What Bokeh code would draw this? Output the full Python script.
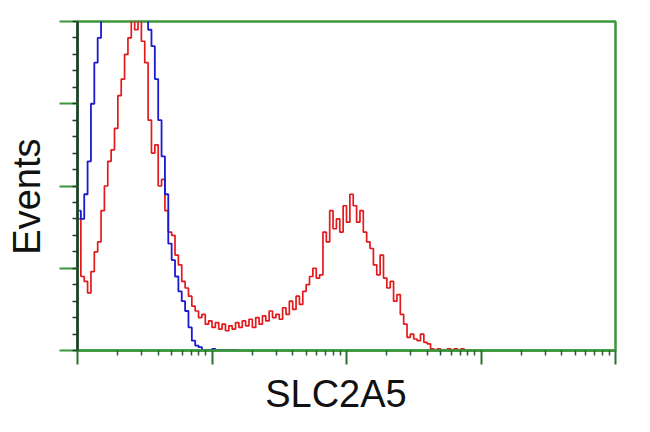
from bokeh.plotting import figure
from bokeh.models import Range1d, FixedTicker, ColumnDataSource
from bokeh.embed import file_html
from bokeh.resources import INLINE

# Channels: 40 channels per decade, log scale from 1 to 10^4
CH_PER_DECADE = 40

blue_counts = [85, 80, 95, 115, 150, 175, 190, 210, 225, 240, 255, 265, 275, 280,
               285, 280, 270, 260, 245, 230, 215, 195, 185, 165, 140, 118, 95, 65,
               55, 45, 36, 30, 24, 14, 6, 3, 2, 0, 0, 0, 1, 0, 0, 0, 0, 0, 0, 0]

red_counts = [80, 45, 42, 35, 48, 60, 66, 85, 100, 115, 122, 135, 155, 165, 180, 190,
              205, 195, 205, 188, 175, 140, 120, 125, 100, 104, 85, 72, 70, 58, 52, 42,
              38, 33, 27, 24, 20, 22, 16, 18, 14, 17, 13, 16, 12, 15, 13, 17, 14, 18,
              15, 19, 14, 20, 16, 21, 18, 24, 20, 22, 19, 26, 22, 30, 25, 33, 28, 36,
              40, 45, 50, 44, 46, 72, 66, 85, 74, 80, 72, 88, 78, 95, 88, 78, 85, 72,
              66, 62, 52, 46, 58, 44, 38, 42, 30, 34, 22, 16, 8, 10, 7, 6, 10, 5, 4, 1,
              0, 1, 0, 0, 1, 0, 1, 0, 1, 0, 0, 0]

x_major = [1, 10, 100, 1000, 10000]
y_major = [0, 50, 100, 150, 200]

GREEN = "#38983a"
DARK = "#203a2c"

def centers(n):
    return [10 ** ((i + 0.5) / CH_PER_DECADE) for i in range(n)]

blue_src = ColumnDataSource(dict(x=centers(len(blue_counts)), y=blue_counts))
red_src = ColumnDataSource(dict(x=centers(len(red_counts)), y=red_counts))

p = figure(width=642, height=424, x_axis_type="log",
           x_range=Range1d(x_major[0], x_major[-1]), y_range=Range1d(y_major[0], y_major[-1]),
           output_backend="svg", toolbar_location=None,
           min_border_left=77, min_border_right=27, min_border_top=21, min_border_bottom=74)

p.step("x", "y", source=red_src, mode="center", line_color="#e3191c", line_width=1.7)
p.step("x", "y", source=blue_src, mode="center", line_color="#1a1ad0", line_width=1.8)

p.grid.visible = False
p.outline_line_color = GREEN
p.outline_line_width = 2.5
p.background_fill_color = "white"
p.border_fill_color = "white"

minor_x = [m * 10 ** k for k in range(4) for m in range(2, 10)]
p.xaxis.ticker = FixedTicker(ticks=x_major, minor_ticks=minor_x)
p.yaxis.ticker = FixedTicker(ticks=y_major, minor_ticks=list(range(0, 201, 10)))

for ax in (p.xaxis[0], p.yaxis[0]):
    ax.major_label_text_font_size = "1px"
    ax.major_label_text_alpha = 0
    ax.major_label_standoff = 0
    ax.axis_label_text_font = "Liberation Sans"
    ax.axis_label_text_font_size = "38px"
    ax.axis_label_text_font_style = "normal"
    ax.axis_label_text_color = "#111111"

p.xaxis.axis_label = "SLC2A5\u00a0\u00a0"
p.yaxis.axis_label = "Events\u00a0\u00a0"

p.xaxis.axis_line_color = GREEN
p.xaxis.axis_line_width = 2.5
p.xaxis.major_tick_line_color = "#2f6f35"
p.xaxis.major_tick_line_width = 2
p.xaxis.major_tick_out = 14
p.xaxis.major_tick_in = 0
p.xaxis.minor_tick_line_color = "#2a5a30"
p.xaxis.minor_tick_line_width = 1.5
p.xaxis.minor_tick_out = 5
p.xaxis.minor_tick_in = 0
p.xaxis.axis_label_standoff = 8

p.yaxis.axis_line_color = DARK
p.yaxis.axis_line_width = 2.5
p.yaxis.major_tick_line_color = GREEN
p.yaxis.major_tick_line_width = 2
p.yaxis.major_tick_out = 18
p.yaxis.major_tick_in = 0
p.yaxis.minor_tick_line_color = DARK
p.yaxis.minor_tick_line_width = 1.5
p.yaxis.minor_tick_out = 5
p.yaxis.minor_tick_in = 0
p.yaxis.axis_label_standoff = 12

open("out.html", "w").write(file_html(p, INLINE))
